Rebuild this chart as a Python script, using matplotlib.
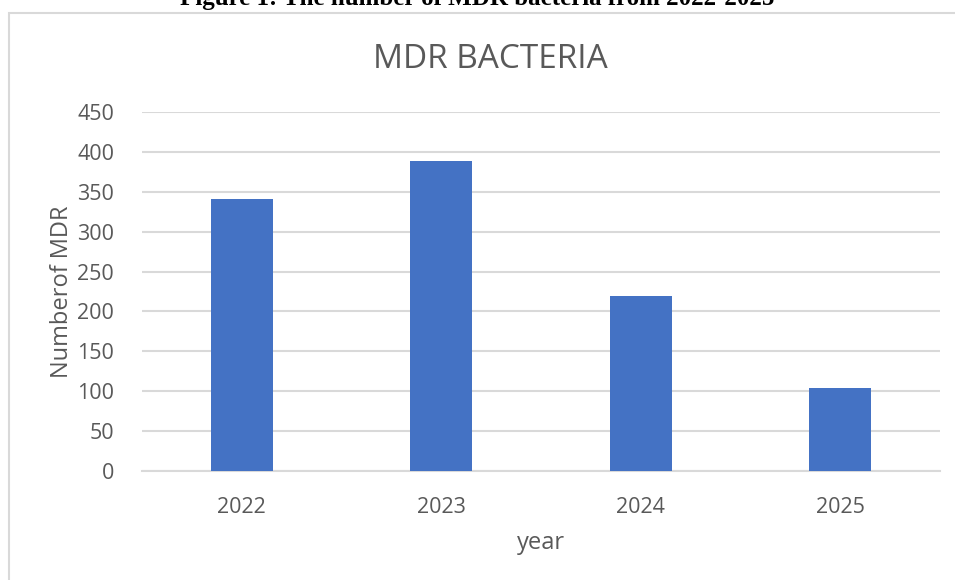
import matplotlib
matplotlib.use("Agg")
import matplotlib.pyplot as plt
from matplotlib.patches import Rectangle

#---------------------------------- DATA --------------------------------------

years = ["2022", "2023", "2024", "2025"]
mdr_counts = [341, 389, 219, 104]
y_ticks = [0, 50, 100, 150, 200, 250, 300, 350, 400, 450]

#-------------------------------- STYLE ---------------------------------------

W, H = 955, 580
bar_color = "#4472c4"
grid_color = "#d9d9d9"
text_color = "#595959"
plt.rcParams["font.family"] = ["Open Sans", "DejaVu Sans"]

fig = plt.figure(figsize=(W / 100, H / 100), dpi=100)
fig.set_facecolor("white")

#chart frame, runs off the right and bottom edges
fig.patches.append(Rectangle((9 / W, -0.05), 1.1, 1 - 13 / H + 0.05,
                             transform=fig.transFigure, fill=False,
                             edgecolor=grid_color, linewidth=1.5))

#caption sitting above the frame, mostly cut off
fig.text(0.5, 1 - 5 / H, "Figure 1: The number of MDR bacteria from 2022-2025",
         ha="center", va="baseline", family="Liberation Serif",
         weight="bold", fontsize=18, color="black")

ax = fig.add_axes([142 / W, (H - 471) / H, (940 - 142) / W, (471 - 112) / H])

x = range(len(years))
ax.bar(x, mdr_counts, width=0.31, color=bar_color, zorder=3)

ax.set_xlim(-0.5, len(years) - 0.5)
ax.set_ylim(0, 450)
ax.set_yticks(y_ticks)
ax.set_xticks(list(x))
ax.set_xticklabels(years)

ax.grid(axis="y", color=grid_color, linewidth=1.5, zorder=0)
for side in ["top", "right", "left"]:
    ax.spines[side].set_visible(False)
ax.spines["bottom"].set_color(grid_color)
ax.spines["bottom"].set_linewidth(1.5)

ax.tick_params(axis="both", length=0, labelsize=15.5, labelcolor=text_color)
ax.tick_params(axis="y", pad=20)
ax.tick_params(axis="x", pad=19)

#titles placed on the whole chart area rather than the plot box
fig.text(490 / W, 1 - 60 / H, "MDR BACTERIA", ha="center", va="center",
         fontsize=24, color=text_color)
fig.text(541 / W, 1 - 543 / H, "year", ha="center", va="center",
         fontsize=17, color=text_color)
fig.text(62 / W, 1 - 292 / H, "Numberof MDR", ha="center", va="center",
         rotation=90, fontsize=17, color=text_color)

fig.savefig("out.png", dpi=100, facecolor=fig.get_facecolor())
